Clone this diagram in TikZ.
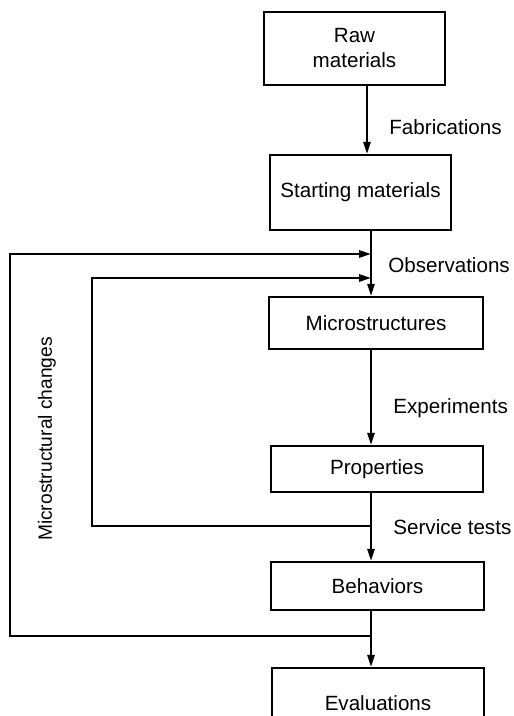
\documentclass[tikz,border=0pt]{standalone}
\usepackage{fontspec}
\setmainfont{Liberation Sans}
\usetikzlibrary{arrows.meta}
\begin{document}
\begin{tikzpicture}[x=0.5pt,y=-0.5pt,
  box/.style={draw, line width=1.1pt, inner sep=0pt, align=center, font=\fontsize{10.3}{12.5}\selectfont},
  lbl/.style={anchor=west, inner sep=0pt, font=\fontsize{10.3}{12.5}\selectfont},
  arr/.style={line width=1.1pt, -{Triangle[length=6pt,width=3.6pt]}},
  ln/.style={line width=1.1pt}]
\path[use as bounding box, clip] (0,0) rectangle (513,716);
\fill[white] (0,0) rectangle (513,716);
% boxes
\node[box, minimum width=90.5pt, minimum height=36.5pt] (raw) at (354.5,48.5) {Raw\\materials};
\node[box, minimum width=90.5pt, minimum height=37.5pt] (start) at (360.5,192.5) {Starting materials};
\node[box, minimum width=107pt, minimum height=26pt] (micro) at (376,323) {Microstructures};
\node[box, minimum width=106pt, minimum height=23pt] (prop) at (377,469) {Properties};
\node[box, minimum width=106.5pt, minimum height=24pt] (beh) at (377.5,586) {Behaviors};
\node[box, minimum width=106pt, minimum height=35pt] (eval) at (378,703) {Evaluations};
% spine
\coordinate (sa) at (367,0);
\coordinate (sb) at (371,0);
\coordinate (jin) at (371,526);
\coordinate (jout) at (371,636);
\coordinate (tin) at (371,278);
\coordinate (tout) at (371,254);
\draw[arr] (raw.south -| sa) -- (start.north -| sa);
\draw[arr] (start.south -| sb) -- (micro.north -| sb);
\draw[arr] (micro.south -| sb) -- (prop.north -| sb);
\draw[arr] (prop.south -| sb) -- (beh.north -| sb);
\draw[arr] (beh.south -| sb) -- (eval.north -| sb);
% feedback loops
\draw[arr] (jin) -- ++(-279,0) |- (tin);
\draw[arr] (jout) -- ++(-361,0) |- (tout);
% labels
\node[lbl] (fab) at (389,127) {Fabrications};
\node[lbl] (obs) at (388,265) {Observations};
\node[lbl] (exp) at (393,408) {Experiments};
\node[lbl] (ser) at (393,527) {Service tests};
\node[inner sep=0pt, rotate=90, font=\fontsize{9.6}{12}\selectfont] (mc) at (47,439) {Microstructural changes};
\end{tikzpicture}
\end{document}
